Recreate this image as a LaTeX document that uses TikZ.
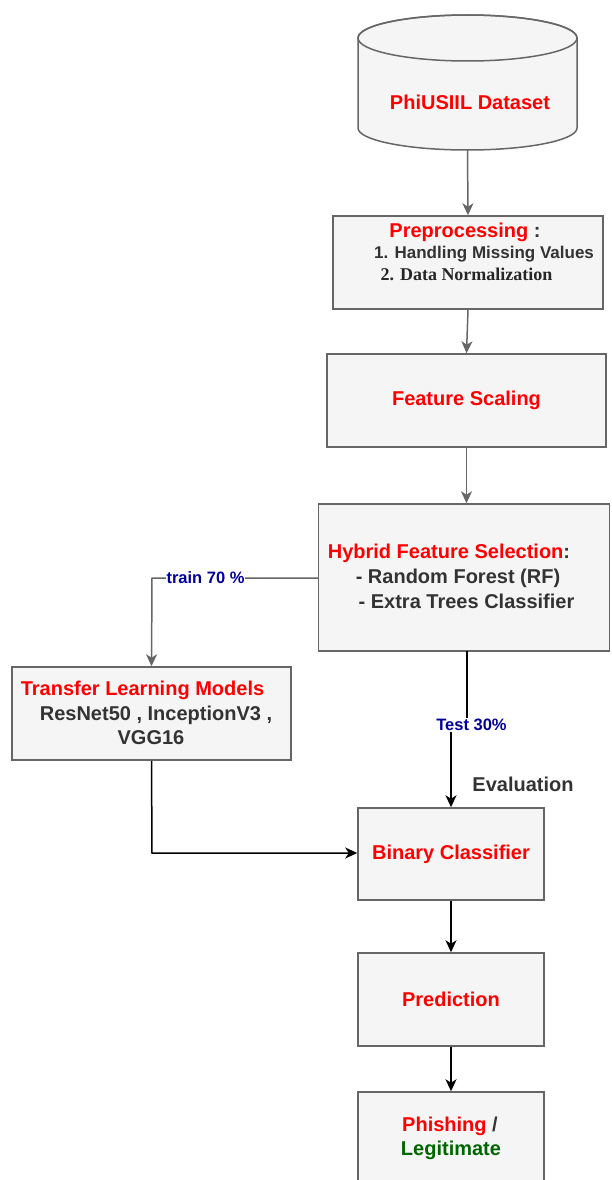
\documentclass[tikz,border=0pt]{standalone}
\usepackage{fontspec}
\setmainfont{Liberation Sans}
\newfontfamily\serifbold{Liberation Serif}
\usetikzlibrary{arrows.meta}
\definecolor{boxfill}{HTML}{F5F5F5}
\definecolor{boxline}{HTML}{666666}
\definecolor{txtred}{HTML}{FF0000}
\definecolor{txtdark}{HTML}{333333}
\definecolor{txtblue}{HTML}{000099}
\definecolor{txtgreen}{HTML}{006600}
\tikzset{
  stagebox/.style={draw=boxline, fill=boxfill, line width=1.5pt, inner sep=0pt},
  big/.style={font=\fontsize{20}{24}\selectfont\bfseries, inner sep=0pt},
  mid/.style={font=\fontsize{17}{20}\selectfont\bfseries, inner sep=0pt},
  edgelabel/.style={font=\fontsize{16.5}{19}\selectfont\bfseries, text=txtblue, fill=white, inner sep=1pt},
  grayflow/.style={draw=boxline, line width=1.5pt, -{Stealth[length=12pt,width=11pt,inset=3.5pt]}},
  blackflow/.style={draw=black, line width=1.5pt, -{Stealth[length=12pt,width=11pt,inset=3.5pt]}},
}
\begin{document}
\begin{tikzpicture}[x=1pt,y=-1pt]
\useasboundingbox (0,0) rectangle (611,1180);
\clip (0,0) rectangle (611,1180);

% dataset cylinder
\path[stagebox] (358,38) -- (358,128) arc[start angle=180, end angle=0, x radius=109.5, y radius=22] -- (577,38) arc[start angle=0, end angle=-180, x radius=109.5, y radius=23] -- cycle;
\draw[boxline, line width=1.5pt] (467.5,38) ellipse[x radius=109.5, y radius=23];
\node[inner sep=0, minimum width=219, minimum height=135] (data) at (467.5,82.5) {};
\node[big, text=txtred] (datat) at (470,102) {PhiUSIIL Dataset};

% process stages
\node[stagebox, minimum width=270, minimum height=93] (pre) at (468,262.5) {};
\node[stagebox, minimum width=279, minimum height=93] (fs) at (466.5,400.5) {};
\node[stagebox, minimum width=291, minimum height=147] (hyb) at (464,577.5) {};
\node[stagebox, minimum width=279, minimum height=93] (tl) at (151.5,713.5) {};
\node[stagebox, minimum width=186, minimum height=92] (bin) at (451,854) {};
\node[stagebox, minimum width=186, minimum height=93] (pred) at (451,999.5) {};
\node[stagebox, minimum width=186, minimum height=93] (out) at (451,1138.5) {};

% texts
\node[big] (pret) at (465,232) {\textcolor{txtred}{Preprocessing} \textcolor{txtdark}{:}};
\node[mid, text=txtdark] (pre1) at (484,254) {1. Handling Missing Values};
\node[inner sep=0pt, font=\fontsize{18}{21}\selectfont\serifbold\bfseries, text=black!85] (pre2) at (466.5,274) {2. Data Normalization};
\node[big, text=txtred] (fst) at (466.5,400) {Feature Scaling};
\node[big] (hybt) at (449,553) {\textcolor{txtred}{Hybrid Feature Selection}\textcolor{txtdark}{:}};
\node[big, text=txtdark] (hyb1) at (458,578) {- Random Forest (RF)};
\node[big, text=txtdark] (hyb2) at (466.5,601) {- Extra Trees Classifier};
\node[big, text=txtred] (tlt) at (142.5,690) {Transfer Learning Models};
\node[big, text=txtdark] (tl1) at (156,715) {ResNet50 , InceptionV3 ,};
\node[big, text=txtdark] (tl2) at (151,738) {VGG16};
\node[big, text=txtred] (bint) at (451,854) {Binary Classifier};
\node[big, text=txtred] (predt) at (451,999) {Prediction};
\node[big] (outt1) at (450,1126) {\textcolor{txtred}{Phishing} \textcolor{txtdark}{/}};
\node[big, text=txtgreen] (outt2) at (451,1150) {Legitimate};

% connectors
\draw[grayflow] (data.south) -- (pre.north);
\draw[grayflow] (pre.south) -- (fs.north);
\draw[grayflow] (fs.south) -- (fs.south |- hyb.north);
\coordinate (trainturn) at (152,578);
\draw[grayflow] (hyb.west |- trainturn) -- (trainturn) -- (tl.north);
\node[edgelabel] (trainlbl) at (205.5,578) {train 70 \%};

\coordinate (testtop) at (467,651);
\coordinate (testjog) at (467,724);
\draw[blackflow] (testtop) -- (testjog) -- (bin.north |- testjog) -- (bin.north);
\node[edgelabel] (testlbl) at (471.5,725) {Test 30\%};
\node[big, text=txtdark] (evalt) at (523,784) {Evaluation};

\coordinate (tlturn) at (152,853);
\draw[blackflow] (tl.south) -- (tlturn) -- (bin.west |- tlturn);
\draw[blackflow] (bin.south) -- (pred.north);
\draw[blackflow] (pred.south) -- (out.north);
\end{tikzpicture}
\end{document}
